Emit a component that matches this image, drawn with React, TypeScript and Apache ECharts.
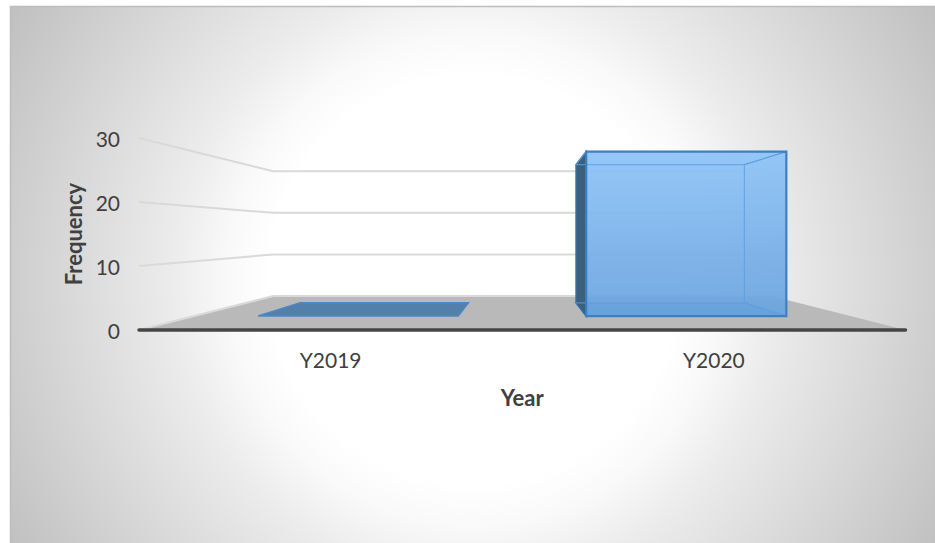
import React, { useEffect, useRef } from "react";
import * as echarts from "echarts";

const categories = ["Y2019", "Y2020"];
const frequencies = [0, 30];
const yTicks = [0, 10, 20, 30];

const FONT = "Lato, 'Open Sans', sans-serif";
const TEXT = "#404040";
const BACK_WALL = 0.65;
const BAR_FRONT = 0.856;
const BAR_BACK = 0.72;
const BAR_WIDTH = 0.61;
const VANISH_DROP = 97;

type P = [number, number];
function projector(cs: any) {
  const vx = cs.x + cs.width / 2;
  const vy = cs.y + cs.height - VANISH_DROP;
  return (p: P, s: number): P => [vx + (p[0] - vx) * s, vy + (p[1] - vy) * s];
}

function renderFloor(params: any) {
  const cs = params.coordSys;
  const proj = projector(cs);
  const b = cs.y + cs.height;
  const l: P = [cs.x, b];
  const r: P = [cs.x + cs.width, b];
  return {
    type: "polygon",
    shape: { points: [l, r, proj(r, BACK_WALL), proj(l, BACK_WALL)] },
    style: { fill: "#b9b9b9" },
  };
}

function renderGrid(params: any, api: any) {
  const cs = params.coordSys;
  const proj = projector(cs);
  const y = api.coord([0, api.value(1)])[1];
  const l: P = [cs.x, y];
  const r: P = [cs.x + cs.width, y];
  return {
    type: "polyline",
    shape: { points: [l, proj(l, BACK_WALL), proj(r, BACK_WALL)] },
    style: { stroke: "#d9d9d9", lineWidth: 2, fill: "none" },
  };
}

function renderBar(params: any, api: any) {
  const cs = params.coordSys;
  const proj = projector(cs);
  const i = api.value(0);
  const v = api.value(1);
  const w = api.size([1, 0])[0] * BAR_WIDTH;
  const cx = api.coord([i, 0])[0];
  const y0 = api.coord([i, 0])[1];
  const y1 = api.coord([i, v])[1];
  const bl: P = [cx - w / 2, y0];
  const br: P = [cx + w / 2, y0];
  const tl: P = [cx - w / 2, y1];
  const tr: P = [cx + w / 2, y1];
  const fbl = proj(bl, BAR_FRONT), fbr = proj(br, BAR_FRONT), ftl = proj(tl, BAR_FRONT), ftr = proj(tr, BAR_FRONT);
  const kbl = proj(bl, BAR_BACK), kbr = proj(br, BAR_BACK), ktl = proj(tl, BAR_BACK), ktr = proj(tr, BAR_BACK);
  const edge = "#3b7fc4";
  const inner = "#5c9fe2";
  const children: any[] = [
    { type: "polygon", shape: { points: [fbl, fbr, kbr, kbl] }, style: { fill: "#5280aa", stroke: "#4a88c8", lineWidth: 1.5 } },
  ];
  if (v > 0) {
    children.push(
      { type: "polygon", shape: { points: [kbl, ktl, ftl, fbl] }, style: { fill: "#3c5f7b", stroke: "#2f6da8", lineWidth: 1.5 } },
      {
        type: "polygon",
        shape: { points: [ftl, ftr, fbr, fbl] },
        style: {
          fill: new echarts.graphic.LinearGradient(0, 0, 0, 1, [
            { offset: 0, color: "rgba(142,195,248,0.93)" },
            { offset: 1, color: "rgba(106,163,222,0.93)" },
          ]),
        },
      },
      { type: "polyline", shape: { points: [ftl, ktl, ktr, kbr, kbl] }, style: { stroke: inner, lineWidth: 1.2, fill: "none", opacity: 0.75 } },
      { type: "line", shape: { x1: ktr[0], y1: ktr[1], x2: ftr[0], y2: ftr[1] }, style: { stroke: inner, lineWidth: 1.2 } },
      { type: "line", shape: { x1: kbr[0], y1: kbr[1], x2: fbr[0], y2: fbr[1] }, style: { stroke: inner, lineWidth: 1.2 } },
      { type: "polygon", shape: { points: [ftl, ftr, fbr, fbl] }, style: { fill: "none", stroke: edge, lineWidth: 2.2 } }
    );
  }
  return { type: "group", children };
}

export default function App() {
  const ref = useRef<HTMLDivElement>(null);
  useEffect(() => {
    const chart = echarts.init(ref.current!, undefined, { renderer: "svg" });
    chart.setOption({
      animation: false,
      textStyle: { fontFamily: FONT },
      graphic: {
        elements: [
          {
            type: "rect",
            z: -10,
            silent: true,
            shape: { x: 10.5, y: 6.5, width: 930, height: 540 },
            style: {
              fill: {
                type: "radial",
                global: true,
                x: 474,
                y: 280,
                r: 536,
                colorStops: [
                  { offset: 0, color: "#ffffff" },
                  { offset: 0.38, color: "#ffffff" },
                  { offset: 0.46, color: "#f9f9f9" },
                  { offset: 0.56, color: "#ececec" },
                  { offset: 1, color: "#c0c0c0" },
                ],
              },
              stroke: "#bdbdbd",
              lineWidth: 1.5,
            },
          },
        ],
      },
      grid: { left: 139, right: 29.5, top: 138, bottom: 213, containLabel: false },
      xAxis: {
        type: "category",
        data: categories,
        z: 3,
        axisLine: { show: true, lineStyle: { color: "#454545", width: 3.5, cap: "round" } },
        axisTick: { show: false },
        splitLine: { show: false },
        axisLabel: { color: TEXT, fontFamily: FONT, fontSize: 21, margin: 19 },
        name: "Year",
        nameLocation: "middle",
        nameGap: 56,
        nameTextStyle: { color: TEXT, fontFamily: FONT, fontSize: 22, fontWeight: "bold" },
      },
      yAxis: {
        type: "value",
        min: 0,
        max: 30,
        interval: 10,
        axisLine: { show: false },
        axisTick: { show: false },
        splitLine: { show: false },
        axisLabel: { color: TEXT, fontFamily: FONT, fontSize: 21, margin: 19, formatter: (v: number) => (yTicks.includes(v) ? String(v) : "") },
        name: "Frequency",
        nameLocation: "middle",
        nameGap: 55,
        nameRotate: 90,
        nameTextStyle: { color: TEXT, fontFamily: FONT, fontSize: 22, fontWeight: "bold" },
      },
      series: [
        { type: "custom", name: "floor", z: 1, silent: true, renderItem: renderFloor, data: [[0, 0]], encode: { x: 0, y: 1 } },
        { type: "custom", name: "grid", z: 1, silent: true, renderItem: renderGrid, data: yTicks.map((t) => [0, t]), encode: { x: 0, y: 1 } },
        { type: "custom", name: "Frequency", z: 4, renderItem: renderBar, data: frequencies.map((v, i) => [i, v]), encode: { x: 0, y: 1 } },
      ],
    });
    return () => chart.dispose();
  }, []);
  return <div ref={ref} style={{ position: "absolute", left: 0, top: 0, width: 935, height: 543 }} />;
}
